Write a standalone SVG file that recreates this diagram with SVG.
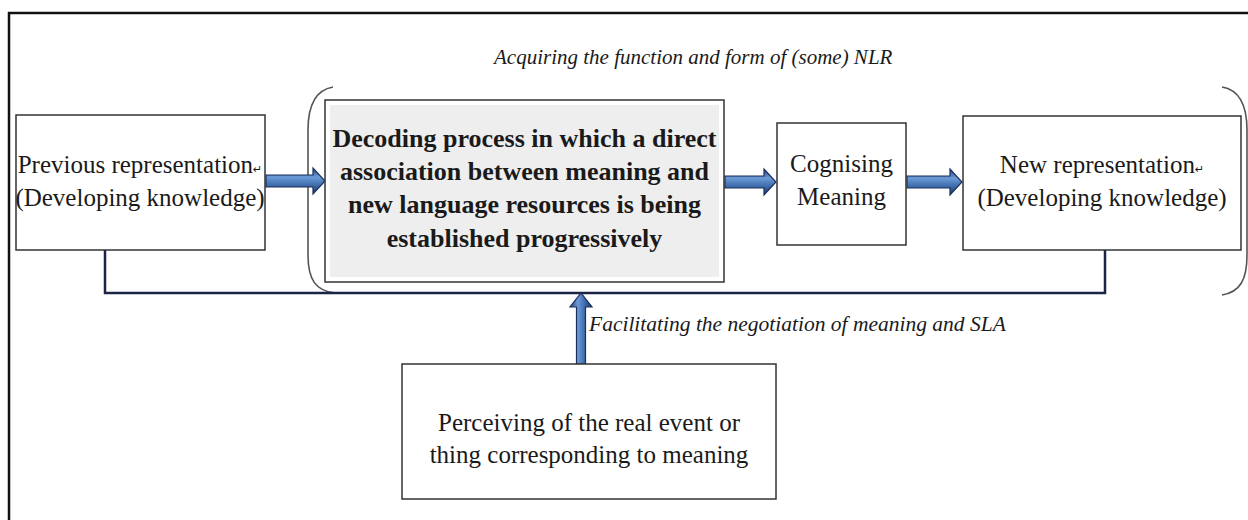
<svg xmlns="http://www.w3.org/2000/svg" width="1248" height="520" viewBox="0 0 1248 520">
  <style>
    .box { fill: #ffffff; stroke: #333333; stroke-width: 1.5; }
    .txt { font-family: "Liberation Serif", "DejaVu Serif", serif; font-size: 25px; fill: #1a1a1a; text-anchor: middle; }
    .bold { font-weight: bold; font-size: 26px; }
    .lbl { font-family: "Liberation Serif", "DejaVu Serif", serif; font-style: italic; font-size: 21.5px; fill: #1a1a1a; }
    .top { font-size: 21px; }
    .ret { font-family: "DejaVu Sans", sans-serif; font-size: 11px; }
    .brace { fill: none; stroke: #555555; stroke-width: 1.6; }
    .link { fill: none; stroke: #1b2444; stroke-width: 2.5; }
    .harrow { fill: url(#gradH); stroke: #1b2f5a; stroke-width: 1.2; stroke-linejoin: miter; }
    .varrow { fill: url(#gradV); stroke: #1b2f5a; stroke-width: 1.2; stroke-linejoin: miter; }
  </style>
  <defs>
    <linearGradient id="gradH" x1="0" y1="0" x2="0" y2="1">
      <stop offset="0" stop-color="#24447e"/>
      <stop offset="0.35" stop-color="#6b9bd8"/>
      <stop offset="0.7" stop-color="#3a66a6"/>
      <stop offset="1" stop-color="#1d3869"/>
    </linearGradient>
    <linearGradient id="gradV" x1="0" y1="0" x2="1" y2="0">
      <stop offset="0" stop-color="#24447e"/>
      <stop offset="0.35" stop-color="#6b9bd8"/>
      <stop offset="0.7" stop-color="#3a66a6"/>
      <stop offset="1" stop-color="#1d3869"/>
    </linearGradient>
  </defs>

  <rect width="1248" height="520" fill="#ffffff"/>
  <!-- outer frame -->
  <rect x="9" y="13" width="1260" height="530" fill="none" stroke="#111111" stroke-width="2.5"/>

  <!-- brackets around the acquisition stage -->
  <path class="brace" d="M333,87 C316,90 308,105 308,130 L308,255 C308,280 316,291 335,293"/>
  <path class="brace" d="M1222,87 C1240,90 1247,105 1247,130 L1247,255 C1247,280 1240,292 1222,295"/>

  <text class="lbl top" x="494" y="64">Acquiring the function and form of (some) NLR</text>

  <g id="connectors">
    <path class="link" d="M105,250 L105,293 L1105,293 L1105,250"/>
    <path class="harrow" d="M266,175 L313,175 L313,168 L325,181 L313,194 L313,187 L266,187 Z"/>
    <path class="harrow" d="M725,176 L764,176 L764,169 L776,182 L764,195 L764,188 L725,188 Z"/>
    <path class="harrow" d="M907,176 L950,176 L950,169 L962,182 L950,195 L950,188 L907,188 Z"/>
    <path class="varrow" d="M576.5,364 L576.5,307 L570,307 L581,293 L592,307 L585.5,307 L585.5,364 Z"/>
    <text class="lbl" x="589" y="331">Facilitating the negotiation of meaning and SLA</text>
  </g>

  <g id="previous">
    <rect class="box" x="16" y="115" width="249" height="135"/>
    <text class="txt" x="140" y="173">Previous representation<tspan class="ret">↵</tspan></text>
    <text class="txt" x="140" y="206">(Developing knowledge)</text>
  </g>

  <g id="decoding">
    <rect class="box" x="325" y="100" width="399" height="182"/>
    <rect x="330" y="105" width="389" height="172" fill="#eeeeee"/>
    <text class="txt bold" x="524.5" y="147">Decoding process in which a direct</text>
    <text class="txt bold" x="524.5" y="180">association between meaning and</text>
    <text class="txt bold" x="524.5" y="213">new language resources is being</text>
    <text class="txt bold" x="524.5" y="247">established progressively</text>
  </g>

  <g id="cognising">
    <rect class="box" x="777" y="123" width="129" height="122"/>
    <text class="txt" x="841.5" y="172">Cognising</text>
    <text class="txt" x="841.5" y="205">Meaning</text>
  </g>

  <g id="new">
    <rect class="box" x="963" y="116" width="278" height="134"/>
    <text class="txt" x="1102" y="173">New representation<tspan class="ret">↵</tspan></text>
    <text class="txt" x="1102" y="206">(Developing knowledge)</text>
  </g>

  <g id="perceiving">
    <rect class="box" x="402" y="364" width="374" height="135"/>
    <text class="txt" x="589" y="431">Perceiving of the real event or</text>
    <text class="txt" x="589" y="463">thing corresponding to meaning</text>
  </g>
</svg>
